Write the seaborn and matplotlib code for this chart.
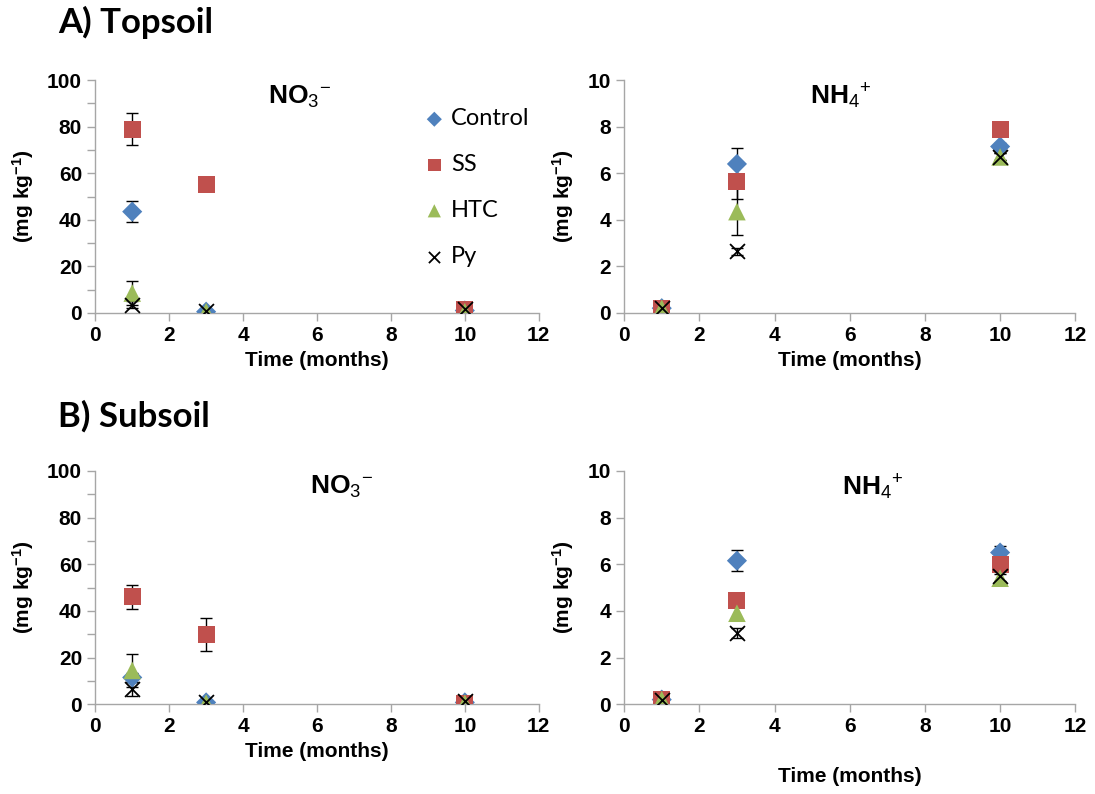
import numpy as np
import pandas as pd
import matplotlib
matplotlib.use("Agg")
import matplotlib.pyplot as plt
import seaborn as sns
from matplotlib.ticker import MultipleLocator

# ---------------- data ----------------
time = [1, 3, 10]
treatments = ["Control", "SS", "HTC", "Py"]

# Topsoil NO3- (mg kg-1)
top_no3 = {"Control": [43.5, 0.5, 1.0], "SS": [79.0, 55.0, 1.5],
           "HTC": [8.5, 0.5, 0.5], "Py": [3.5, 1.0, 1.5]}
top_no3_err = {"Control": [4.5, 0.3, 0.3], "SS": [7.0, 0.5, 0.5],
               "HTC": [5.0, 0.3, 0.3], "Py": [1.5, 0.3, 0.3]}
# Topsoil NH4+
top_nh4 = {"Control": [0.2, 6.4, 7.15], "SS": [0.2, 5.65, 7.9],
           "HTC": [0.2, 4.35, 6.7], "Py": [0.2, 2.65, 6.7]}
top_nh4_err = {"Control": [0.05, 0.7, 0.15], "SS": [0.05, 0.75, 0.3],
               "HTC": [0.05, 1.0, 0.15], "Py": [0.05, 0.15, 0.15]}
# Subsoil NO3-
sub_no3 = {"Control": [11.5, 0.8, 0.8], "SS": [46.0, 30.0, 0.5],
           "HTC": [14.5, 0.5, 0.5], "Py": [6.5, 1.0, 1.5]}
sub_no3_err = {"Control": [2.0, 0.3, 0.3], "SS": [5.0, 7.0, 0.5],
               "HTC": [7.0, 0.3, 0.3], "Py": [3.0, 0.3, 0.3]}
# Subsoil NH4+
sub_nh4 = {"Control": [0.2, 6.15, 6.5], "SS": [0.2, 4.45, 6.0],
           "HTC": [0.2, 3.9, 5.4], "Py": [0.2, 3.05, 5.5]}
sub_nh4_err = {"Control": [0.05, 0.45, 0.3], "SS": [0.05, 0.2, 0.2],
               "HTC": [0.05, 0.3, 0.2], "Py": [0.05, 0.2, 0.2]}

colors = {"Control": "#4F81BD", "SS": "#C0504D", "HTC": "#9BBB59", "Py": "#000000"}
markers = {"Control": "D", "SS": "s", "HTC": "^", "Py": "x"}
sizes = {"Control": 105, "SS": 150, "HTC": 160}

# ---------------- style ----------------
sns.set_style("white")
plt.rcParams["font.family"] = ["Liberation Sans", "DejaVu Sans"]
plt.rcParams["mathtext.fontset"] = "custom"
plt.rcParams["mathtext.rm"] = "Liberation Sans"
plt.rcParams["mathtext.bf"] = "Liberation Sans:bold"
plt.rcParams["mathtext.it"] = "Liberation Sans:italic"
plt.rcParams["text.color"] = "black"
plt.rcParams["axes.labelcolor"] = "black"
plt.rcParams["xtick.color"] = "black"
plt.rcParams["ytick.color"] = "black"

fig = plt.figure(figsize=(10.95, 7.94), dpi=100)

def frame(d, e):
    rows = []
    for t in treatments:
        for i, x in enumerate(time):
            rows.append({"Time": x, "Value": d[t][i], "Err": e[t][i], "Treatment": t})
    return pd.DataFrame(rows)

no3_title = r"$\mathbf{NO}_{3}{}^{-}$"
nh4_title = r"$\mathbf{NH}_{4}{}^{+}$"

panels = [
    (top_no3, top_no3_err, [0.087, 0.606, 0.405, 0.293], 100, 20, 10, no3_title, 0.46, True),
    (top_nh4, top_nh4_err, [0.570, 0.606, 0.412, 0.293], 10, 2, 2, nh4_title, 0.48, False),
    (sub_no3, sub_no3_err, [0.087, 0.113, 0.405, 0.294], 100, 20, 10, no3_title, 0.555, False),
    (sub_nh4, sub_nh4_err, [0.570, 0.113, 0.412, 0.294], 10, 2, 2, nh4_title, 0.55, False),
]

for idx, (d, e, pos, ymax, major, minor, title, tx, show_leg) in enumerate(panels):
    ax = fig.add_axes(pos)
    df = frame(d, e)
    for t in treatments:
        sub = df[df.Treatment == t]
        ax.errorbar(sub.Time, sub.Value, yerr=sub.Err, fmt="none", ecolor="black",
                    elinewidth=1.0, capsize=4.5, capthick=1.0, zorder=2)
    for t in treatments:
        sub = df[df.Treatment == t]
        if t == "Py":
            sns.scatterplot(data=sub, x="Time", y="Value", marker="x", s=115,
                            color="black", linewidth=1.3, ax=ax, zorder=3, label=t,
                            legend=False)
        else:
            sns.scatterplot(data=sub, x="Time", y="Value", marker=markers[t],
                            color=colors[t], s=sizes[t],
                            edgecolor="none", linewidth=0, ax=ax, zorder=3, label=t,
                            legend=False)
    ax.set_xlim(0, 12)
    ax.set_ylim(0, ymax)
    ax.set_xticks(range(0, 13, 2))
    ax.yaxis.set_major_locator(MultipleLocator(major))
    ax.yaxis.set_minor_locator(MultipleLocator(minor))
    for s in ["top", "right"]:
        ax.spines[s].set_visible(False)
    for s in ["left", "bottom"]:
        ax.spines[s].set_color("#A6A6A6")
        ax.spines[s].set_linewidth(1.0)
    ax.tick_params(axis="both", which="both", direction="out", color="#A6A6A6",
                   length=6, width=1.0, labelsize=15, labelcolor="black")
    ax.tick_params(axis="y", which="both", left=True)
    ax.tick_params(axis="x", which="both", bottom=True)
    for lab in ax.get_xticklabels() + ax.get_yticklabels():
        lab.set_fontweight("bold")
    ax.set_xlabel("Time (months)", fontsize=15, fontweight="bold",
                  labelpad=4 if idx != 3 else 22)
    ax.set_ylabel(r"$\mathbf{(mg\ kg^{-1})}$", fontsize=15, labelpad=8)
    ax.text(tx, 0.93, title, transform=ax.transAxes, ha="center", va="center",
            fontsize=19)
    if show_leg:
        handles, labels = ax.get_legend_handles_labels()
        ax.legend(handles, labels, loc="upper left", bbox_to_anchor=(0.69, 0.97),
                  frameon=False, prop={"family": "Lato", "size": 17},
                  labelspacing=1.05, handletextpad=0.2, handlelength=1.0,
                  markerscale=0.75)

fig.text(0.053, 0.972, "A) Topsoil", fontsize=25, fontweight="bold", va="center",
         family=["Lato", "DejaVu Sans"])
fig.text(0.053, 0.476, "B) Subsoil", fontsize=25, fontweight="bold", va="center",
         family=["Lato", "DejaVu Sans"])

fig.savefig("out.png", dpi=100)
